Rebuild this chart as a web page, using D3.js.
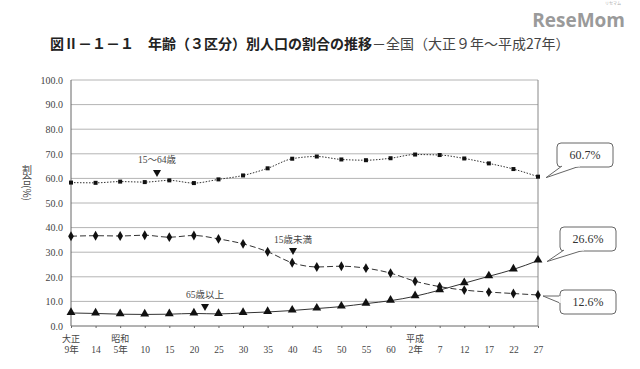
<!DOCTYPE html>
<html>
<head>
<meta charset="utf-8">
<script src="https://cdn.jsdelivr.net/npm/d3@7"></script>
<style>
  body { margin: 0; background: #fff; }
  svg { display: block; }
</style>
</head>
<body>
<div id="chart"></div>
<script>
// categories (census years) - two label rows
var eraRow = ["大正", "", "昭和", "", "", "", "", "", "", "", "", "", "", "", "平成", "", "", "", "", ""];
var yearRow = ["9年", "14", "5年", "10", "15", "20", "25", "30", "35", "40", "45", "50", "55", "60", "2年", "7", "12", "17", "22", "27"];

// shares (%)
var age15to64 = [58.3, 58.2, 58.7, 58.5, 59.2, 58.1, 59.6, 61.2, 64.1, 68.0, 68.9, 67.7, 67.4, 68.2, 69.7, 69.5, 68.1, 66.1, 63.8, 60.7];
var under15 = [36.5, 36.7, 36.6, 36.9, 36.1, 36.8, 35.4, 33.4, 30.2, 25.7, 24.0, 24.3, 23.5, 21.5, 18.2, 16.0, 14.6, 13.8, 13.2, 12.6];
var over65 = [5.3, 5.1, 4.8, 4.7, 4.8, 5.1, 4.9, 5.3, 5.7, 6.3, 7.1, 7.9, 9.1, 10.3, 12.1, 14.6, 17.4, 20.2, 23.0, 26.6];

var yTicks = [0, 10, 20, 30, 40, 50, 60, 70, 80, 90, 100];

var width = 640, height = 369;
var margin = { top: 80, right: 102, bottom: 43, left: 71 };

var svg = d3.select("#chart").append("svg")
    .attr("width", width)
    .attr("height", height);

var serif = "'Liberation Serif', 'Noto Sans CJK JP', serif";
var cjk = "'Noto Sans CJK JP', sans-serif";

// title
var title = svg.append("text")
    .attr("x", 50).attr("y", 49)
    .attr("font-family", cjk)
    .attr("font-size", 14)
    .attr("fill", "#222");
title.append("tspan").attr("font-weight", "bold").text("図Ⅱ－１－１　年齢（３区分）別人口の割合の推移");
title.append("tspan").attr("font-weight", "normal").attr("fill", "#444").text("－全国（大正９年～平成27年）");

// watermark logo, small kana above the "m"
svg.append("text")
    .attr("x", 613).attr("y", 4.5)
    .attr("text-anchor", "middle")
    .attr("font-family", cjk)
    .attr("font-size", 4)
    .attr("fill", "#aaa")
    .text("リセマム");
svg.append("text")
    .attr("x", 625).attr("y", 27)
    .attr("text-anchor", "end")
    .attr("font-family", "'Open Sans', 'DejaVu Sans', sans-serif")
    .attr("font-weight", "bold")
    .attr("font-size", 19)
    .attr("fill", "#9a9a9a")
    .text("ReseMom");

var x = d3.scalePoint()
    .domain(d3.range(yearRow.length))
    .range([margin.left, width - margin.right]);

var y = d3.scaleLinear()
    .domain([0, 100])
    .range([height - margin.bottom, margin.top]);

// gridlines
svg.append("g")
    .selectAll("line")
    .data(yTicks)
    .join("line")
    .attr("x1", margin.left).attr("x2", width - margin.right)
    .attr("y1", function (d) { return y(d); })
    .attr("y2", function (d) { return y(d); })
    .attr("stroke", function (d) { return d === 0 ? "#666" : "#b4b4b4"; })
    .attr("stroke-width", 1);

// frame
svg.append("line")
    .attr("x1", margin.left).attr("x2", margin.left)
    .attr("y1", y(100)).attr("y2", y(0))
    .attr("stroke", "#666");
svg.append("line")
    .attr("x1", width - margin.right).attr("x2", width - margin.right)
    .attr("y1", y(100)).attr("y2", y(0))
    .attr("stroke", "#888");

// y axis labels
var yAxis = d3.axisLeft(y)
    .tickValues(yTicks)
    .tickSize(0)
    .tickPadding(8)
    .tickFormat(d3.format(".1f"));
var gy = svg.append("g")
    .attr("transform", "translate(" + margin.left + ",0)")
    .call(yAxis);
gy.select(".domain").remove();
gy.selectAll("text")
    .attr("font-family", serif)
    .attr("font-size", 10)
    .attr("fill", "#444");

// x axis ticks and labels
var xAxis = d3.axisBottom(x)
    .tickSize(2)
    .tickFormat(function (i) { return yearRow[i]; })
    .tickPadding(18);
var gx = svg.append("g")
    .attr("transform", "translate(0," + y(0) + ")")
    .call(xAxis);
gx.select(".domain").remove();
gx.selectAll("line").attr("stroke", "#666");
gx.selectAll("text")
    .attr("font-family", serif)
    .attr("font-size", 9.5)
    .attr("fill", "#444");

svg.append("g")
    .selectAll("text")
    .data(eraRow)
    .join("text")
    .attr("x", function (d, i) { return x(i); })
    .attr("y", y(0) + 16)
    .attr("text-anchor", "middle")
    .attr("font-family", cjk)
    .attr("font-size", 9)
    .attr("fill", "#444")
    .text(function (d) { return d; });

// y axis title, written vertically
svg.append("text")
    .attr("x", 27).attr("y", 165)
    .attr("writing-mode", "vertical-rl")
    .attr("font-family", cjk)
    .attr("font-size", 10)
    .attr("fill", "#444")
    .text("割合(%)");

// series lines
var line = function (vals) {
    return d3.line()
        .x(function (d, i) { return x(i); })
        .y(function (d) { return y(d); })
        .curve(d3.curveMonotoneX)(vals);
};

svg.append("path")
    .attr("d", line(age15to64))
    .attr("fill", "none")
    .attr("stroke", "#333")
    .attr("stroke-width", 1)
    .attr("stroke-dasharray", "1.5,1.5");

svg.append("path")
    .attr("d", line(under15))
    .attr("fill", "none")
    .attr("stroke", "#333")
    .attr("stroke-width", 1)
    .attr("stroke-dasharray", "6,3");

svg.append("path")
    .attr("d", line(over65))
    .attr("fill", "none")
    .attr("stroke", "#333")
    .attr("stroke-width", 1);

// markers
svg.append("g").selectAll("rect")
    .data(age15to64)
    .join("rect")
    .attr("x", function (d, i) { return x(i) - 2; })
    .attr("y", function (d) { return y(d) - 2; })
    .attr("width", 4).attr("height", 4)
    .attr("fill", "#111");

svg.append("g").selectAll("path")
    .data(under15)
    .join("path")
    .attr("d", d3.symbol().type(d3.symbolDiamond).size(28))
    .attr("transform", function (d, i) { return "translate(" + x(i) + "," + y(d) + ")"; })
    .attr("fill", "#111");

svg.append("g").selectAll("path")
    .data(over65)
    .join("path")
    .attr("d", d3.symbol().type(d3.symbolTriangle).size(34))
    .attr("transform", function (d, i) { return "translate(" + x(i) + "," + (y(d) - 0.5) + ")"; })
    .attr("fill", "#111");

// series name annotations with down-pointing triangles
var notes = [
    { label: "15～64歳", tx: 157, ty: 163, px: 157, py: 174 },
    { label: "15歳未満", tx: 293, ty: 243, px: 293, py: 252 },
    { label: "65歳以上", tx: 205, ty: 298, px: 205, py: 308 }
];
notes.forEach(function (n) {
    svg.append("text")
        .attr("x", n.tx).attr("y", n.ty)
        .attr("text-anchor", "middle")
        .attr("font-family", serif)
        .attr("font-size", 9.5)
        .attr("fill", "#444")
        .text(n.label);
    svg.append("path")
        .attr("d", "M" + (n.px - 4) + "," + (n.py - 4) + "L" + (n.px + 4) + "," + (n.py - 4) + "L" + n.px + "," + (n.py + 3) + "Z")
        .attr("fill", "#111");
});

// callouts for last values
var lastIdx = yearRow.length - 1;
var callouts = [
    { v: age15to64[lastIdx], bx: 557, by: 143, tail: [[562, 166], [580, 166]], tip: 8 },
    { v: over65[lastIdx], bx: 560, by: 227, tail: [[564, 250], [584, 250]], tip: 9 },
    { v: under15[lastIdx], bx: 560, by: 290, tail: [[560, 296], [560, 303]], tip: 5 }
];
callouts.forEach(function (c) {
    var w = 56, h = 24, r = 4;
    var px = x(lastIdx) + c.tip, py = y(c.v) + 1;
    svg.append("rect")
        .attr("x", c.bx).attr("y", c.by)
        .attr("width", w).attr("height", h)
        .attr("rx", r)
        .attr("fill", "#fff")
        .attr("stroke", "#666");
    // tail
    svg.append("path")
        .attr("d", "M" + c.tail[0][0] + "," + c.tail[0][1] + "L" + px + "," + py + "L" + c.tail[1][0] + "," + c.tail[1][1])
        .attr("fill", "#fff")
        .attr("stroke", "#666");
    svg.append("line")
        .attr("x1", c.tail[0][0]).attr("y1", c.tail[0][1])
        .attr("x2", c.tail[1][0]).attr("y2", c.tail[1][1])
        .attr("stroke", "#fff").attr("stroke-width", 1.5);
    svg.append("text")
        .attr("x", c.bx + w / 2).attr("y", c.by + 16)
        .attr("text-anchor", "middle")
        .attr("font-family", serif)
        .attr("font-size", 12)
        .attr("fill", "#333")
        .text(d3.format(".1f")(c.v) + "%");
});
</script>
</body>
</html>
